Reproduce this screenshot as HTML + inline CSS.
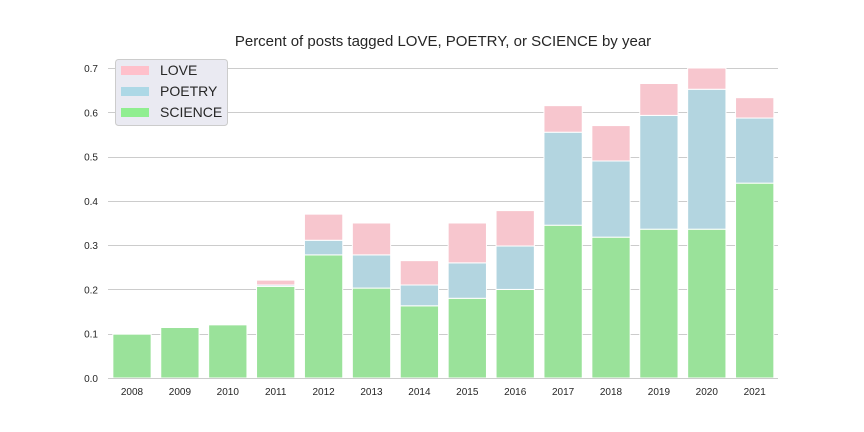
<!DOCTYPE html>
<html><head><meta charset="utf-8"><style>
body{margin:0;background:#fff;font-family:"Liberation Sans",sans-serif}
svg{display:block}
</style></head><body>
<svg id="chart" width="864" height="432">
<text x="443" y="46" text-anchor="middle" font-size="15" fill="#262626">Percent of posts tagged LOVE, POETRY, or SCIENCE by year</text>
<g id="grid"></g><g id="bars"></g><g id="ticks"></g>
<line x1="108" y1="378.5" x2="778" y2="378.5" stroke="#ccc" stroke-width="1"/>
<g>
<rect x="115.5" y="59.5" width="112" height="66" rx="3" fill="#eaeaf2" stroke="#ccc"/>
<rect x="121" y="66" width="28" height="9" fill="#ffc0cb"/>
<text x="160" y="75" font-size="14" fill="#262626">LOVE</text>
<rect x="121" y="87" width="28" height="9" fill="#add8e6"/>
<text x="160" y="96" font-size="14" fill="#262626">POETRY</text>
<rect x="121" y="108" width="28" height="9" fill="#90ee90"/>
<text x="160" y="117" font-size="14" fill="#262626">SCIENCE</text>
</g>
</svg>
<script>
const years=["2008","2009","2010","2011","2012","2013","2014","2015","2016","2017","2018","2019","2020","2021"];
const science=[0.099,0.114,0.12,0.207,0.278,0.203,0.163,0.18,0.2,0.345,0.318,0.336,0.336,0.44];
const poetry=[0,0,0,0.003,0.033,0.075,0.047,0.08,0.098,0.21,0.172,0.257,0.316,0.147];
const love=[0,0,0,0.011,0.059,0.072,0.055,0.09,0.08,0.06,0.08,0.072,0.06,0.046];
const yTicks=[0,0.1,0.2,0.3,0.4,0.5,0.6,0.7];
const NS="http://www.w3.org/2000/svg";
const y=v=>378-v*(310/0.7);
const x=i=>132+i*47.9;
const bw=38.3;
function mk(tag,attrs,parent){const e=document.createElementNS(NS,tag);for(const k in attrs)e.setAttribute(k,attrs[k]);document.getElementById(parent).appendChild(e);return e;}
yTicks.forEach(t=>{
  if(t>0){const l=mk('line',{x1:108,x2:778,y1:Math.round(y(t))+0.5,y2:Math.round(y(t))+0.5,stroke:'#ccc'},'grid');
  
  }
  const tx=mk('text',{x:98,y:y(t)+4,'text-anchor':'end','font-size':10,fill:'#262626'},'ticks');
  tx.textContent=t.toFixed(1);
  
  
});
const series=[[science,'#9ae29a','science'],[poetry,'#b3d5e0','poetry'],[love,'#f7c6ce','love']];
years.forEach((yr,i)=>{
  let base=0;
  series.forEach(([arr,col,nm])=>{
    const v=arr[i];
    if(v>0){
      const top=Math.max(y(base+v),68);
      const r=mk('rect',{x:x(i)-bw/2,y:top,width:bw,height:y(base)-top,fill:col,stroke:'#fff','stroke-width':1},'bars');
      
      
    }
    base+=v;
  });
  const tx=mk('text',{x:x(i),y:395,'text-anchor':'middle','font-size':10,fill:'#262626'},'ticks');
  tx.textContent=yr;
  
  
});
</script>
</body></html>
